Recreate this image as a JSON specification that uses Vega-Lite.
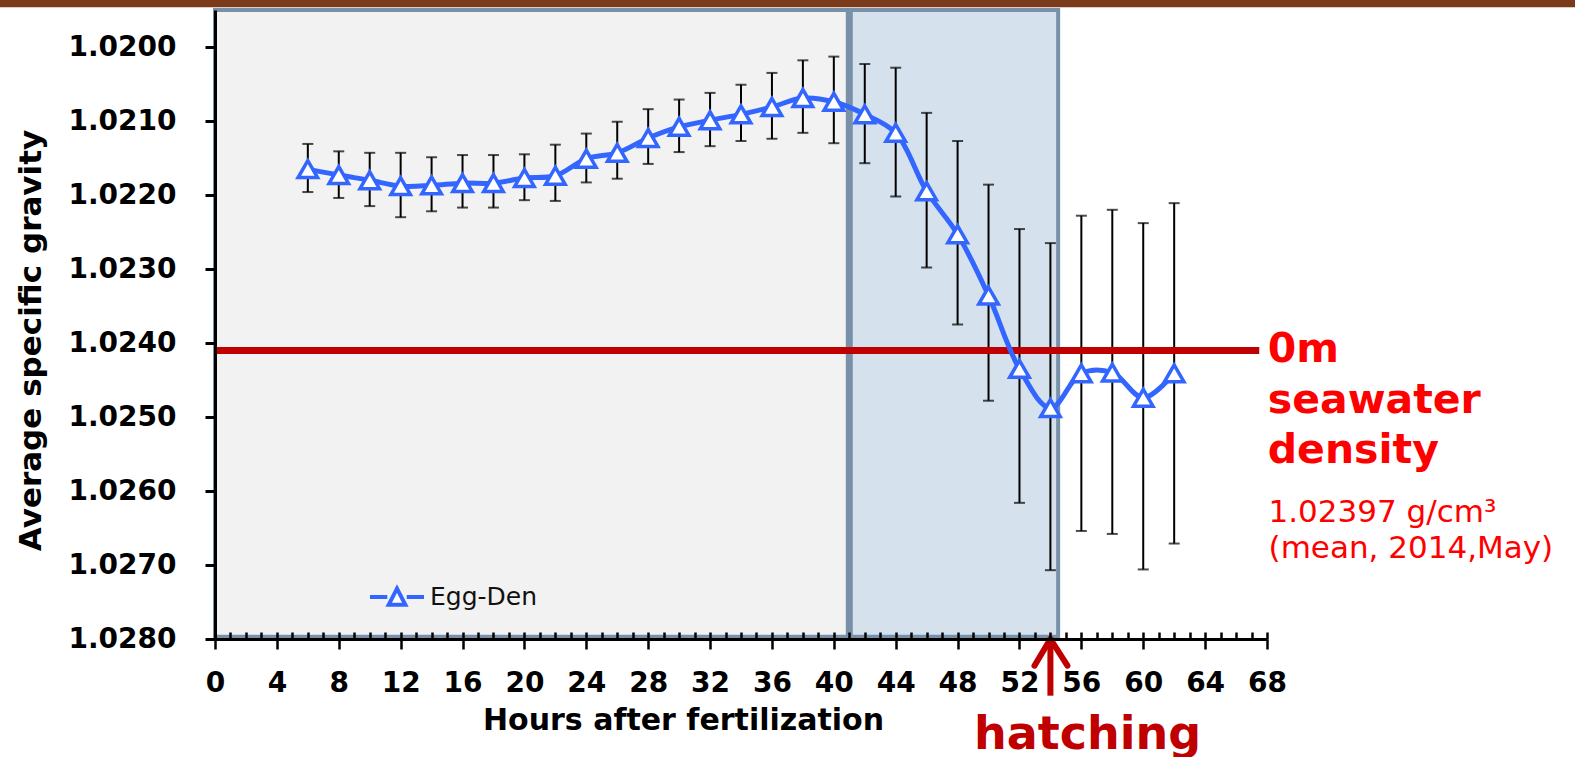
{
  "$schema": "https://vega.github.io/schema/vega-lite/v6.json",
  "width": 1052,
  "height": 629,
  "autosize": {"type": "none"},
  "padding": {"left": 215, "top": 10, "right": 308, "bottom": 118},
  "background": "white",
  "config": {"view": {"stroke": null}, "font": "DejaVu Sans"},
  "data": {
    "values": [
      {"series": "Egg-Den", "h": 6, "mean": 1.02165, "lo": 1.02131, "hi": 1.02196},
      {"series": "Egg-Den", "h": 8, "mean": 1.02173, "lo": 1.02141, "hi": 1.02204},
      {"series": "Egg-Den", "h": 10, "mean": 1.0218, "lo": 1.02143, "hi": 1.02215},
      {"series": "Egg-Den", "h": 12, "mean": 1.02188, "lo": 1.02143, "hi": 1.0223},
      {"series": "Egg-Den", "h": 14, "mean": 1.02187, "lo": 1.02149, "hi": 1.02222},
      {"series": "Egg-Den", "h": 16, "mean": 1.02184, "lo": 1.02146, "hi": 1.02217},
      {"series": "Egg-Den", "h": 18, "mean": 1.02184, "lo": 1.02146, "hi": 1.02217},
      {"series": "Egg-Den", "h": 20, "mean": 1.02177, "lo": 1.02145, "hi": 1.02207},
      {"series": "Egg-Den", "h": 22, "mean": 1.02174, "lo": 1.02132, "hi": 1.02208},
      {"series": "Egg-Den", "h": 24, "mean": 1.02151, "lo": 1.02117, "hi": 1.02183},
      {"series": "Egg-Den", "h": 26, "mean": 1.02143, "lo": 1.02101, "hi": 1.02178},
      {"series": "Egg-Den", "h": 28, "mean": 1.02123, "lo": 1.02084, "hi": 1.02158},
      {"series": "Egg-Den", "h": 30, "mean": 1.02108, "lo": 1.02071, "hi": 1.02142},
      {"series": "Egg-Den", "h": 32, "mean": 1.02099, "lo": 1.02062, "hi": 1.02134},
      {"series": "Egg-Den", "h": 34, "mean": 1.02091, "lo": 1.02051, "hi": 1.02127},
      {"series": "Egg-Den", "h": 36, "mean": 1.02081, "lo": 1.02035, "hi": 1.02124},
      {"series": "Egg-Den", "h": 38, "mean": 1.02069, "lo": 1.02018, "hi": 1.02116},
      {"series": "Egg-Den", "h": 40, "mean": 1.02074, "lo": 1.02013, "hi": 1.0213},
      {"series": "Egg-Den", "h": 42, "mean": 1.02091, "lo": 1.02023, "hi": 1.02157},
      {"series": "Egg-Den", "h": 44, "mean": 1.02116, "lo": 1.02028, "hi": 1.02202},
      {"series": "Egg-Den", "h": 46, "mean": 1.02195, "lo": 1.02089, "hi": 1.02298},
      {"series": "Egg-Den", "h": 48, "mean": 1.02253, "lo": 1.02127, "hi": 1.02375},
      {"series": "Egg-Den", "h": 50, "mean": 1.02336, "lo": 1.02186, "hi": 1.02478},
      {"series": "Egg-Den", "h": 52, "mean": 1.02435, "lo": 1.02246, "hi": 1.02616},
      {"series": "Egg-Den", "h": 54, "mean": 1.02488, "lo": 1.02265, "hi": 1.02707},
      {"series": "Egg-Den", "h": 56, "mean": 1.02441, "lo": 1.02228, "hi": 1.02654},
      {"series": "Egg-Den", "h": 58, "mean": 1.0244, "lo": 1.0222, "hi": 1.02658},
      {"series": "Egg-Den", "h": 60, "mean": 1.02474, "lo": 1.02238, "hi": 1.02706},
      {"series": "Egg-Den", "h": 62, "mean": 1.02441, "lo": 1.02211, "hi": 1.02671}
    ]
  },
  "layer": [
    {
      "data": {"values": [{}]},
      "mark": {"type": "rect", "color": "#7b3b1b"},
      "encoding": {
        "x": {"datum": -14, "type": "quantitative", "scale": {"domain": [0, 68], "nice": false, "zero": false}, "axis": null},
        "x2": {"datum": 88.5},
        "y": {"datum": 1.01936, "type": "quantitative", "title": "Average specific gravity", "scale": {"domain": [1.0195, 1.028], "reverse": true, "nice": false, "zero": false},
          "axis": {"orient": "left", "values": [1.02, 1.021, 1.022, 1.023, 1.024, 1.025, 1.026, 1.027, 1.028], "format": ".4f", "tickSize": 10, "tickWidth": 3, "tickColor": "black",
            "domain": true, "domainColor": "black", "domainWidth": 3, "labelFont": "DejaVu Sans", "labelFontWeight": "bold", "labelFontSize": 28, "labelColor": "black",
            "labelPadding": 29, "labelFlush": false, "labelOverlap": false, "grid": false, "zindex": 1,
            "title": "Average specific gravity", "titleFont": "DejaVu Sans", "titleFontSize": 31, "titleFontWeight": "bold", "titleColor": "black",
            "titleX": -175, "titleY": 330, "titleAngle": 270, "titleBaseline": "alphabetic", "titleAlign": "center"}},
        "y2": {"datum": 1.019462}
      }
    },
    {
      "data": {"values": [{}]},
      "mark": {"type": "rect", "fill": "#f2f2f2", "stroke": "#7891a8", "strokeWidth": 4},
      "encoding": {
        "x": {"datum": 0, "type": "quantitative", "scale": {"domain": [0, 68], "nice": false, "zero": false},
          "axis": {"orient": "bottom", "values": [0,1,2,3,4,5,6,7,8,9,10,11,12,13,14,15,16,17,18,19,20,21,22,23,24,25,26,27,28,29,30,31,32,33,34,35,36,37,38,39,40,41,42,43,44,45,46,47,48,49,50,51,52,53,54,55,56,57,58,59,60,61,62,63,64,65,66,67,68],
            "tickSize": -7, "tickWidth": 2.5, "tickColor": "black", "domain": false, "labels": false, "title": null, "grid": false, "zindex": 1}},
        "x2": {"datum": 41},
        "y": {"datum": 1.0195, "type": "quantitative", "title": "Average specific gravity", "scale": {"domain": [1.0195, 1.028], "reverse": true, "nice": false, "zero": false}},
        "y2": {"datum": 1.02797}
      }
    },
    {
      "data": {"values": [{}]},
      "mark": {"type": "rect", "fill": "#d5e2ed", "stroke": "#7891a8", "strokeWidth": 4},
      "encoding": {
        "x": {"datum": 41, "type": "quantitative", "scale": {"domain": [0, 68], "nice": false, "zero": false}, "axis": null},
        "x2": {"datum": 54.5},
        "y": {"datum": 1.0195, "type": "quantitative", "title": "Average specific gravity", "scale": {"domain": [1.0195, 1.028], "reverse": true, "nice": false, "zero": false}},
        "y2": {"datum": 1.02797}
      }
    },
    {
      "data": {"values": [{}]},
      "mark": {"type": "rule", "color": "#7891a8", "strokeWidth": 7},
      "encoding": {
        "x": {"datum": 41, "type": "quantitative", "scale": {"domain": [0, 68], "nice": false, "zero": false}, "axis": null},
        "y": {"datum": 1.0195, "type": "quantitative", "title": "Average specific gravity", "scale": {"domain": [1.0195, 1.028], "reverse": true, "nice": false, "zero": false}},
        "y2": {"datum": 1.028}
      }
    },
    {
      "mark": {"type": "errorbar", "color": "black", "ticks": {"size": 11, "thickness": 2, "color": "black"}, "rule": {"strokeWidth": 2, "color": "black"}},
      "encoding": {
        "x": {"field": "h", "type": "quantitative", "scale": {"domain": [0, 68], "nice": false, "zero": false}, "axis": null},
        "y": {"field": "lo", "type": "quantitative", "title": "Average specific gravity", "scale": {"domain": [1.0195, 1.028], "reverse": true, "nice": false, "zero": false}},
        "y2": {"field": "hi"}
      }
    },
    {
      "data": {"values": [{}]},
      "mark": {"type": "rule", "color": "#c00000", "strokeWidth": 7},
      "encoding": {
        "x": {"datum": 0, "type": "quantitative", "scale": {"domain": [0, 68], "nice": false, "zero": false}, "axis": null},
        "x2": {"datum": 67.5},
        "y": {"datum": 1.0241, "type": "quantitative", "title": "Average specific gravity", "scale": {"domain": [1.0195, 1.028], "reverse": true, "nice": false, "zero": false}}
      }
    },
    {
      "mark": {"type": "line", "interpolate": "catmull-rom", "strokeWidth": 5},
      "encoding": {
        "x": {"field": "h", "type": "quantitative", "scale": {"domain": [0, 68], "nice": false, "zero": false},
          "axis": {"orient": "bottom", "values": [0,4,8,12,16,20,24,28,32,36,40,44,48,52,56,60,64,68], "tickSize": 10, "tickWidth": 2.5, "tickColor": "black",
            "domainColor": "black", "domainWidth": 3, "labelFont": "DejaVu Sans", "labelFontWeight": "bold", "labelFontSize": 28, "labelColor": "black",
            "labelPadding": 20, "labelFlush": false, "labelOverlap": false, "grid": false, "zindex": 1,
            "title": "Hours after fertilization", "titleFont": "DejaVu Sans", "titleFontSize": 30, "titleFontWeight": "bold", "titleColor": "black",
            "titleX": 468, "titleY": 90, "titleBaseline": "alphabetic", "titleAlign": "center"}},
        "y": {"field": "mean", "type": "quantitative", "title": "Average specific gravity", "scale": {"domain": [1.0195, 1.028], "reverse": true, "nice": false, "zero": false}},
        "color": {"field": "series", "type": "nominal", "scale": {"range": ["#3366ff"]},
          "legend": {"orient": "none", "legendX": 153, "legendY": 558, "title": null,
            "symbolType": "M-1,0L-0.36,0M0.36,0L1,0M-0.31,0.29L0,-0.31L0.31,0.29Z", "symbolSize": 2916, "symbolStrokeWidth": 4,
            "symbolFillColor": "white", "labelFont": "DejaVu Sans", "labelFontSize": 25, "labelColor": "#111111", "labelOffset": 4, "padding": 0,
            "encode": {"symbols": {"update": {"fill": {"value": "white"}, "stroke": {"value": "#3366ff"}, "strokeWidth": {"value": 4}}}}}}
      }
    },
    {
      "mark": {"type": "point", "shape": "triangle-up", "size": 380, "filled": true, "fill": "white", "stroke": "#3366ff", "strokeWidth": 3.5, "opacity": 1},
      "encoding": {
        "x": {"field": "h", "type": "quantitative", "scale": {"domain": [0, 68], "nice": false, "zero": false}, "axis": null},
        "y": {"field": "mean", "type": "quantitative", "title": "Average specific gravity", "scale": {"domain": [1.0195, 1.028], "reverse": true, "nice": false, "zero": false}}
      }
    },
    {
      "data": {"values": [{}]},
      "mark": {"type": "rule", "color": "#c00000", "strokeWidth": 6},
      "encoding": {
        "x": {"datum": 54, "type": "quantitative", "scale": {"domain": [0, 68], "nice": false, "zero": false}, "axis": null},
        "y": {"datum": 1.0280, "type": "quantitative", "title": "Average specific gravity", "scale": {"domain": [1.0195, 1.028], "reverse": true, "nice": false, "zero": false}},
        "y2": {"datum": 1.028766}
      }
    },
    {
      "data": {"values": [{}]},
      "mark": {"type": "rule", "color": "#c00000", "strokeWidth": 6, "strokeCap": "round"},
      "encoding": {
        "x": {"datum": 54, "type": "quantitative", "scale": {"domain": [0, 68], "nice": false, "zero": false}, "axis": null},
        "x2": {"datum": 52.97},
        "y": {"datum": 1.0280, "type": "quantitative", "title": "Average specific gravity", "scale": {"domain": [1.0195, 1.028], "reverse": true, "nice": false, "zero": false}},
        "y2": {"datum": 1.028361}
      }
    },
    {
      "data": {"values": [{}]},
      "mark": {"type": "rule", "color": "#c00000", "strokeWidth": 6, "strokeCap": "round"},
      "encoding": {
        "x": {"datum": 54, "type": "quantitative", "scale": {"domain": [0, 68], "nice": false, "zero": false}, "axis": null},
        "x2": {"datum": 55.1},
        "y": {"datum": 1.0280, "type": "quantitative", "title": "Average specific gravity", "scale": {"domain": [1.0195, 1.028], "reverse": true, "nice": false, "zero": false}},
        "y2": {"datum": 1.028361}
      }
    },
    {
      "data": {"values": [{}]},
      "mark": {"type": "text", "text": ["0m", "seawater", "density"], "align": "left", "baseline": "alphabetic", "font": "DejaVu Sans", "fontWeight": "bold", "fontSize": 41, "lineHeight": 50.5, "color": "#ff0000"},
      "encoding": {
        "x": {"datum": 68.05, "type": "quantitative", "scale": {"domain": [0, 68], "nice": false, "zero": false}, "axis": null},
        "y": {"datum": 1.024262, "type": "quantitative", "title": "Average specific gravity", "scale": {"domain": [1.0195, 1.028], "reverse": true, "nice": false, "zero": false}}
      }
    },
    {
      "data": {"values": [{}]},
      "mark": {"type": "text", "text": ["1.02397 g/cm³", "(mean, 2014,May)"], "align": "left", "baseline": "alphabetic", "font": "DejaVu Sans", "fontSize": 31, "lineHeight": 36, "color": "#ff0000"},
      "encoding": {
        "x": {"datum": 68.1, "type": "quantitative", "scale": {"domain": [0, 68], "nice": false, "zero": false}, "axis": null},
        "y": {"datum": 1.026415, "type": "quantitative", "title": "Average specific gravity", "scale": {"domain": [1.0195, 1.028], "reverse": true, "nice": false, "zero": false}}
      }
    },
    {
      "data": {"values": [{}]},
      "mark": {"type": "text", "text": "hatching", "align": "center", "baseline": "alphabetic", "font": "DejaVu Sans", "fontWeight": "bold", "fontSize": 46, "color": "#c00000"},
      "encoding": {
        "x": {"datum": 56.4, "type": "quantitative", "scale": {"domain": [0, 68], "nice": false, "zero": false}, "axis": null},
        "y": {"datum": 1.02948, "type": "quantitative", "title": "Average specific gravity", "scale": {"domain": [1.0195, 1.028], "reverse": true, "nice": false, "zero": false}}
      }
    }
  ],
  "resolve": {"axis": {"x": "independent"}}
}
